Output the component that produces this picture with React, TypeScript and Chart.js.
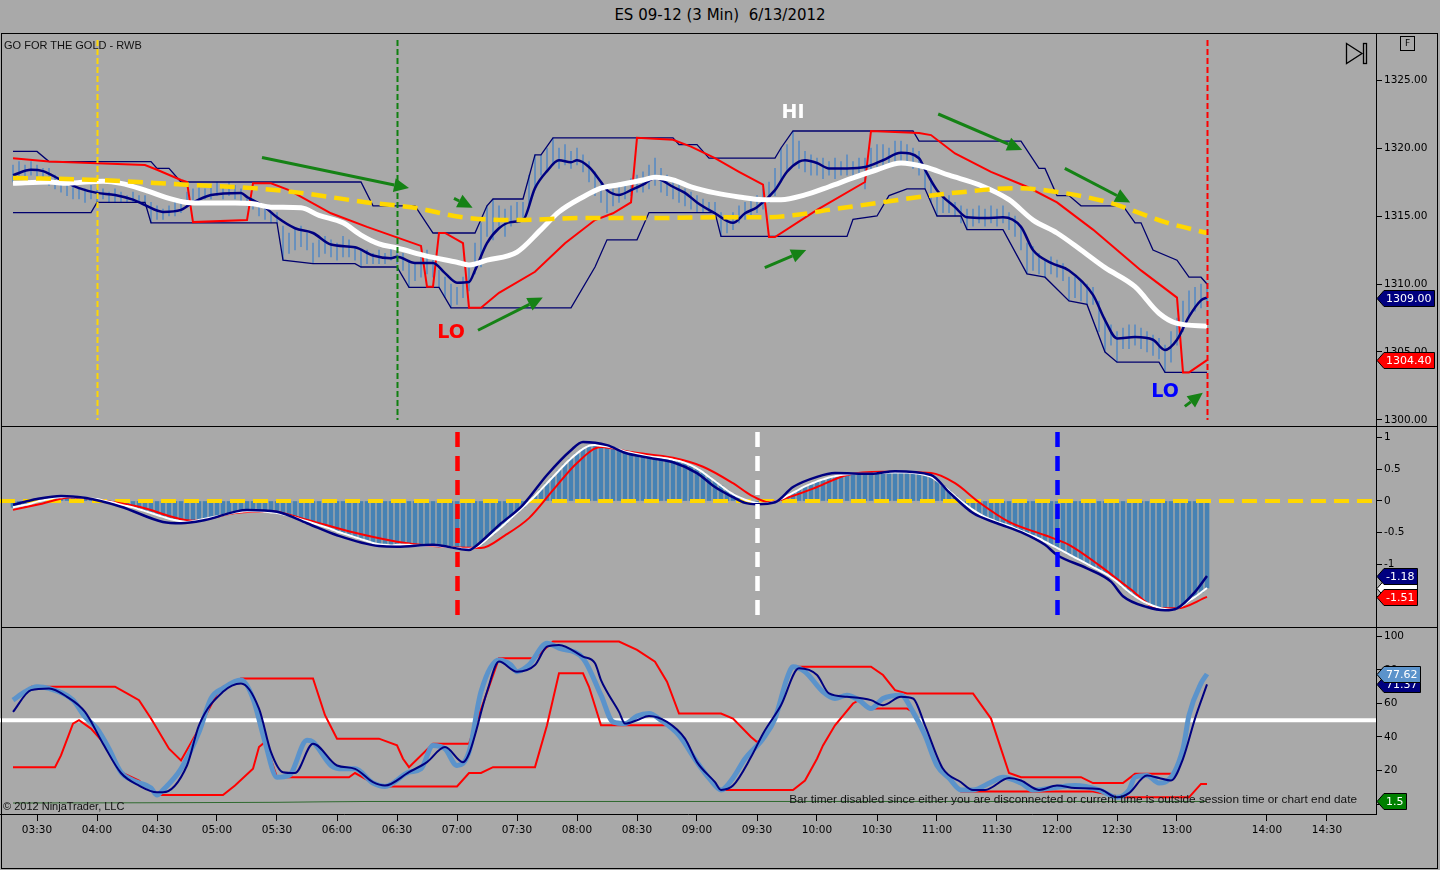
import React, { useEffect, useRef } from 'react';
import { Chart, registerables } from 'chart.js';
Chart.register(...registerables);

// ---------- axis / tick data (bar index: 0 = 03:30, one bar = 3 minutes) ----------
const timeTickIdx = [0, 10, 20, 30, 40, 50, 60, 70, 80, 90, 100, 110, 120, 130, 140, 150, 160, 170, 180, 190, 205, 215];
const timeTickLabels = ['03:30', '04:00', '04:30', '05:00', '05:30', '06:00', '06:30', '07:00', '07:30', '08:00', '08:30', '09:00', '09:30', '10:00', '10:30', '11:00', '11:30', '12:00', '12:30', '13:00', '14:00', '14:30'];
const priceTicks = [1300, 1305, 1310, 1315, 1320, 1325];
const macdTicks = [1, 0.5, 0, -0.5, -1, -1.5];
const stochTicks = [0, 20, 40, 60, 80, 100];

// ---------- price bars (first bar index = barStart) ----------
const barStart = -4;
const priceLow = [
  1317.5, 1317.75, 1317.75, 1318.0, 1317.75, 1317.5, 1317.25, 1317.0, 1316.75, 1316.5,
  1316.25, 1316.25, 1316.0, 1316.25, 1316.0, 1316.25, 1316.0, 1316.0, 1316.0, 1316.0,
  1316.0, 1316.0, 1316.0, 1314.5, 1314.75, 1314.75, 1315.0, 1315.0, 1315.25, 1315.75,
  1316.0, 1316.25, 1316.25, 1316.25, 1316.5, 1316.25, 1316.5, 1316.25, 1316.0, 1315.75,
  1315.5, 1315.0, 1314.75, 1314.5, 1314.5, 1311.75, 1312.25, 1312.5, 1312.75, 1312.5,
  1311.5, 1312.0, 1312.25, 1312.0, 1311.75, 1312.0, 1312.0, 1311.75, 1311.25, 1311.5,
  1311.5, 1311.5, 1311.5, 1311.75, 1311.5, 1311.0, 1309.75, 1310.25, 1310.5, 1310.75,
  1310.5, 1309.75, 1309.0, 1308.25, 1308.5, 1309.0, 1309.5, 1310.75, 1311.25, 1313.5,
  1313.25, 1314.25, 1313.5, 1314.25, 1314.5, 1314.75, 1315.75, 1317.0, 1318.0, 1318.25,
  1318.75, 1318.5, 1318.75, 1318.5, 1318.75, 1318.25, 1317.5, 1316.5, 1316.0, 1315.25,
  1315.75, 1316.0, 1316.25, 1316.5, 1316.75, 1316.75, 1317.0, 1317.25, 1316.75, 1316.5,
  1316.25, 1316.0, 1315.75, 1315.5, 1315.25, 1315.25, 1315.25, 1315.25, 1313.5, 1313.75,
  1314.0, 1314.5, 1314.75, 1315.0, 1315.25, 1315.5, 1316.0, 1316.5, 1317.5, 1318.25,
  1318.75, 1318.5, 1318.25, 1318.0, 1318.0, 1317.75, 1318.0, 1317.75, 1318.0, 1318.0,
  1317.75, 1318.0, 1317.0, 1318.25, 1318.5, 1318.5, 1318.75, 1319.0, 1319.0, 1318.75,
  1318.5, 1318.0, 1317.0, 1316.0, 1315.0, 1315.25, 1315.25, 1315.0, 1314.5, 1314.0,
  1314.25, 1314.5, 1314.25, 1314.5, 1314.25, 1314.5, 1314.0, 1313.5, 1312.5, 1310.75,
  1311.0, 1310.75, 1310.5, 1310.75, 1310.5, 1310.25, 1308.75, 1309.0, 1308.75, 1308.5,
  1308.5, 1306.5, 1305.0, 1305.5, 1304.25, 1305.25, 1305.25, 1305.5, 1305.25, 1305.0,
  1304.75, 1304.5, 1303.5, 1304.25, 1305.5, 1306.5, 1307.5, 1308.0, 1308.25, 1308.5,
];
const priceHigh = [
  1318.75, 1319.0, 1318.75, 1319.0, 1318.75, 1318.5, 1318.5, 1318.0, 1317.5, 1317.5,
  1317.25, 1317.0, 1317.0, 1317.25, 1317.0, 1317.0, 1316.75, 1317.0, 1316.75, 1316.5,
  1316.75, 1316.5, 1316.5, 1316.0, 1315.75, 1315.5, 1315.75, 1316.0, 1316.25, 1316.75,
  1317.0, 1317.25, 1317.0, 1317.25, 1317.5, 1317.25, 1317.5, 1317.25, 1317.0, 1316.5,
  1316.25, 1315.75, 1315.75, 1315.25, 1315.25, 1314.25, 1313.75, 1314.0, 1314.25, 1313.75,
  1313.0, 1313.25, 1313.5, 1313.25, 1313.0, 1313.5, 1313.25, 1312.75, 1312.5, 1312.5,
  1312.25, 1312.5, 1312.25, 1312.75, 1312.5, 1312.25, 1311.75, 1311.5, 1312.0, 1312.5,
  1311.75, 1311.0, 1310.5, 1310.0, 1309.75, 1310.5, 1311.5, 1313.0, 1314.5, 1315.75,
  1316.25, 1315.75, 1315.5, 1315.75, 1316.0, 1316.0, 1318.0, 1319.5, 1319.5, 1320.0,
  1320.75, 1320.0, 1320.25, 1319.75, 1320.0, 1319.5, 1319.0, 1318.25, 1317.5, 1317.0,
  1317.0, 1317.25, 1317.5, 1317.75, 1318.0, 1318.25, 1318.75, 1319.25, 1318.5, 1318.0,
  1317.75, 1317.5, 1317.0, 1316.75, 1316.5, 1316.25, 1316.0, 1316.0, 1315.25, 1315.0,
  1315.25, 1315.75, 1316.0, 1316.25, 1316.5, 1317.0, 1317.5, 1318.5, 1320.0, 1320.25,
  1321.25, 1320.5, 1319.75, 1319.5, 1319.25, 1319.25, 1319.0, 1319.25, 1319.0, 1319.5,
  1319.0, 1319.25, 1319.25, 1320.0, 1320.25, 1320.25, 1320.0, 1320.5, 1320.5, 1320.25,
  1320.0, 1319.75, 1318.75, 1317.75, 1316.5, 1316.5, 1316.5, 1316.0, 1315.75, 1315.5,
  1315.5, 1315.75, 1315.5, 1315.75, 1315.5, 1315.75, 1315.25, 1315.0, 1314.25, 1313.0,
  1312.75, 1312.25, 1311.75, 1312.0, 1311.75, 1311.5, 1310.5, 1310.5, 1310.25, 1310.0,
  1309.75, 1308.75, 1307.5, 1307.0, 1306.5, 1306.75, 1307.0, 1307.0, 1306.75, 1306.5,
  1306.25, 1306.0, 1305.5, 1306.5, 1307.5, 1308.75, 1309.5, 1309.75, 1310.0, 1310.0,
];

// ---------- price panel indicators (bar index, value) ----------
const upperBandT = [-4, 0, 2, 19, 20, 22, 24, 54, 56, 63, 66, 73, 75, 76, 81, 83, 84, 86, 106, 107, 110, 112, 123, 124, 126, 146, 147, 164, 167, 168, 170, 172, 174, 181, 183, 184, 186, 190, 192, 194, 195];
const upperBandV = [1319.75, 1319.75, 1319.0, 1319.0, 1318.5, 1318.5, 1317.5, 1317.5, 1315.75, 1315.75, 1313.75, 1313.75, 1315.75, 1316.25, 1316.25, 1319.5, 1319.5, 1320.75, 1320.75, 1320.25, 1320.25, 1319.25, 1319.25, 1320.0, 1321.25, 1321.25, 1320.5, 1320.5, 1318.5, 1318.5, 1316.5, 1316.5, 1315.75, 1315.75, 1314.5, 1314.5, 1312.5, 1311.75, 1310.5, 1310.5, 1310.0];
const lowerBandT = [-4, 9, 10, 18, 19, 40, 41, 46, 53, 54, 60, 62, 67, 69, 89, 93, 95, 100, 102, 113, 114, 135, 136, 140, 142, 145, 148, 150, 154, 155, 161, 165, 168, 172, 175, 178, 180, 187, 188, 195];
const lowerBandV = [1315.25, 1315.25, 1316.0, 1316.0, 1314.5, 1314.5, 1311.75, 1311.5, 1311.5, 1311.25, 1311.25, 1309.75, 1309.75, 1308.25, 1308.25, 1311.25, 1313.25, 1313.25, 1315.25, 1315.25, 1313.5, 1313.5, 1314.75, 1315.0, 1316.5, 1317.0, 1317.0, 1315.0, 1315.0, 1314.0, 1314.0, 1310.75, 1310.5, 1308.75, 1308.5, 1305.0, 1304.25, 1304.25, 1303.5, 1303.5];
const redStopT = [-4, 2, 18, 20, 24, 25, 26, 35, 36, 39, 42, 49, 55, 64, 65, 66, 67, 68, 71, 72, 74, 77, 83, 88, 93, 96, 99, 100, 106, 109, 113, 117, 121, 122, 123, 130, 138, 139, 147, 149, 153, 159, 165, 170, 176, 184, 190, 191, 192, 195];
const redStopV = [1319.25, 1319.0, 1318.75, 1318.4, 1317.65, 1317.5, 1314.55, 1314.7, 1317.4, 1317.4, 1316.9, 1315.2, 1314.2, 1312.8, 1309.8, 1309.8, 1313.75, 1313.75, 1313.0, 1308.25, 1308.25, 1309.35, 1310.9, 1313.0, 1314.7, 1315.2, 1316.0, 1320.75, 1320.6, 1320.1, 1319.25, 1318.25, 1317.3, 1313.45, 1313.45, 1315.45, 1317.5, 1321.25, 1321.1, 1320.95, 1319.6, 1318.25, 1317.15, 1316.0, 1314.0, 1311.0, 1309.0, 1303.5, 1303.5, 1304.4];
const fastAvgT = [-4, -1, 1, 4, 7, 10, 13, 16, 18, 21, 24, 26, 29, 34, 35, 38, 40, 43, 46, 49, 53, 56, 59, 60, 63, 66, 68, 70, 72, 73, 75, 77, 79, 81, 83, 85, 87, 89, 90, 92, 94, 95, 97, 99, 101, 103, 104, 106, 108, 110, 113, 116, 118, 120, 123, 125, 127, 128, 130, 132, 135, 138, 141, 144, 147, 148, 150, 153, 155, 158, 161, 164, 166, 169, 172, 176, 178, 180, 183, 186, 188, 190, 192, 194, 195];
const fastAvgV = [1318.0, 1318.4, 1318.3, 1317.65, 1317.05, 1316.7, 1316.55, 1316.2, 1315.8, 1315.3, 1315.45, 1316.0, 1316.55, 1316.7, 1316.4, 1315.65, 1314.9, 1314.1, 1313.75, 1312.9, 1312.7, 1312.1, 1311.9, 1312.0, 1311.55, 1311.55, 1310.8, 1310.1, 1310.15, 1311.0, 1313.0, 1314.1, 1314.55, 1314.7, 1317.05, 1318.3, 1319.1, 1318.95, 1319.1, 1318.6, 1317.5, 1316.9, 1316.55, 1316.9, 1317.3, 1317.8, 1317.65, 1317.15, 1316.7, 1316.0, 1315.2, 1314.5, 1315.2, 1315.65, 1316.9, 1318.25, 1319.0, 1319.1, 1318.9, 1318.5, 1318.5, 1318.6, 1319.1, 1319.65, 1319.25, 1318.4, 1316.9, 1315.65, 1314.9, 1314.85, 1314.9, 1314.2, 1312.5, 1311.55, 1311.0, 1309.2, 1307.35, 1306.0, 1306.1, 1305.9, 1305.15, 1305.9, 1307.6, 1308.8, 1309.0];
const midAvgT = [-4, 2, 5, 8, 11, 14, 18, 22, 25, 28, 33, 36, 39, 44, 47, 51, 54, 57, 60, 65, 70, 72, 75, 80, 84, 87, 91, 94, 97, 101, 103, 106, 109, 113, 117, 121, 124, 128, 132, 136, 140, 144, 148, 152, 157, 162, 166, 170, 174, 178, 183, 187, 190, 195];
const midAvgV = [1317.4, 1317.5, 1317.4, 1317.5, 1317.55, 1317.4, 1316.9, 1316.3, 1316.0, 1315.95, 1315.95, 1315.9, 1315.65, 1315.6, 1315.05, 1314.5, 1313.6, 1312.95, 1312.65, 1312.05, 1311.6, 1311.4, 1311.75, 1312.35, 1314.0, 1315.3, 1316.4, 1317.05, 1317.3, 1317.65, 1317.85, 1317.65, 1317.15, 1316.7, 1316.4, 1316.2, 1316.2, 1316.55, 1317.15, 1317.8, 1318.4, 1318.9, 1318.6, 1318.0, 1317.3, 1316.2, 1314.7, 1313.75, 1312.5, 1311.2, 1309.8, 1307.85, 1307.1, 1306.9];
const slowAvgT = [-4, 10, 25, 36, 44, 55, 63, 71, 80, 91, 102, 113, 121, 126, 132, 140, 147, 154, 163, 171, 179, 188, 195];
const slowAvgV = [1317.8, 1317.65, 1317.3, 1317.05, 1316.7, 1316.0, 1315.6, 1314.9, 1314.7, 1314.85, 1314.85, 1314.9, 1314.9, 1315.05, 1315.45, 1315.95, 1316.4, 1316.75, 1317.05, 1316.7, 1315.95, 1314.55, 1313.75];

// price panel annotations
const priceMarkers = [10, 60, 195];
const arrowFromT = [37.5, 69.5, 73.5, 121.3, 150.2, 171.3, 191.3];
const arrowFromV = [1319.3, 1316.3, 1306.6, 1311.2, 1322.5, 1318.5, 1301.0];
const arrowToT = [62, 72.6, 84.3, 128.2, 164.2, 182.2, 194.3];
const arrowToV = [1317.05, 1315.6, 1309.0, 1312.5, 1319.85, 1316.0, 1302.0];
const noteText = ['HI', 'LO', 'LO'];
const noteT = [126, 69, 188];
const noteV = [1322.6, 1306.4, 1302.05];

// ---------- MACD panel ----------
const macdHist = [
  -0.10, -0.08, -0.06, -0.04, -0.01, 0.01, 0.03, 0.05, 0.06, 0.07,
  0.07, 0.06, 0.05, 0.04, 0.03, 0.01, -0.01, -0.03, -0.06, -0.08,
  -0.10, -0.13, -0.16, -0.19, -0.22, -0.25, -0.28, -0.30, -0.32, -0.33,
  -0.32, -0.30, -0.28, -0.26, -0.24, -0.22, -0.20, -0.18, -0.17, -0.16,
  -0.16, -0.16, -0.17, -0.18, -0.19, -0.21, -0.23, -0.26, -0.29, -0.32,
  -0.35, -0.38, -0.41, -0.44, -0.48, -0.51, -0.54, -0.57, -0.60, -0.63,
  -0.66, -0.68, -0.69, -0.70, -0.69, -0.69, -0.69, -0.70, -0.70, -0.70,
  -0.70, -0.71, -0.72, -0.73, -0.74, -0.75, -0.75, -0.73, -0.68, -0.60,
  -0.52, -0.44, -0.36, -0.27, -0.18, -0.10, -0.01, 0.08, 0.18, 0.28,
  0.38, 0.48, 0.58, 0.67, 0.75, 0.82, 0.87, 0.88, 0.87, 0.86,
  0.84, 0.81, 0.78, 0.76, 0.74, 0.72, 0.70, 0.69, 0.68, 0.67,
  0.65, 0.63, 0.60, 0.56, 0.51, 0.45, 0.38, 0.31, 0.24, 0.17,
  0.11, 0.06, 0.02, -0.01, -0.03, -0.04, -0.03, -0.01, 0.03, 0.08,
  0.13, 0.18, 0.23, 0.27, 0.31, 0.34, 0.37, 0.39, 0.41, 0.42,
  0.43, 0.43, 0.43, 0.43, 0.44, 0.44, 0.45, 0.45, 0.45, 0.45,
  0.44, 0.43, 0.41, 0.38, 0.32, 0.24, 0.16, 0.08, 0.00, -0.07,
  -0.14, -0.20, -0.25, -0.29, -0.33, -0.36, -0.39, -0.43, -0.47, -0.51,
  -0.55, -0.59, -0.64, -0.69, -0.74, -0.79, -0.84, -0.89, -0.94, -0.99,
  -1.04, -1.09, -1.14, -1.20, -1.27, -1.35, -1.43, -1.50, -1.56, -1.61,
  -1.65, -1.68, -1.70, -1.71, -1.69, -1.64, -1.57, -1.51, -1.44, -1.37,
];
const macdT = [-4, 0, 4, 8, 14, 21, 24, 28, 35, 40, 45, 50, 57, 60, 66, 72, 73, 77, 81, 85, 89, 91, 95, 98, 102, 106, 110, 113, 116, 118, 120, 123, 126, 130, 133, 139, 143, 149, 152, 156, 160, 164, 168, 170, 175, 179, 181, 185, 188, 190, 193, 195];
const macdV = [-0.06, 0.03, 0.08, 0.05, -0.09, -0.33, -0.35, -0.30, -0.14, -0.17, -0.35, -0.54, -0.71, -0.72, -0.69, -0.77, -0.72, -0.38, -0.06, 0.41, 0.80, 0.93, 0.88, 0.76, 0.68, 0.61, 0.44, 0.22, 0.06, -0.03, -0.05, -0.02, 0.22, 0.38, 0.44, 0.43, 0.47, 0.41, 0.14, -0.19, -0.35, -0.49, -0.69, -0.85, -1.06, -1.27, -1.50, -1.67, -1.72, -1.69, -1.43, -1.18];
const macdSlowT = [-4, 0, 6, 10, 17, 26, 33, 39, 44, 53, 60, 66, 74, 78, 82, 86, 90, 94, 99, 106, 111, 116, 119, 122, 125, 130, 135, 141, 149, 153, 157, 162, 168, 172, 177, 182, 187, 190, 195];
const macdSlowV = [-0.14, -0.06, 0.06, 0.02, -0.09, -0.31, -0.19, -0.16, -0.27, -0.50, -0.64, -0.71, -0.74, -0.54, -0.27, 0.17, 0.60, 0.85, 0.77, 0.68, 0.54, 0.28, 0.09, -0.02, 0.05, 0.22, 0.41, 0.46, 0.44, 0.28, -0.02, -0.33, -0.54, -0.69, -1.01, -1.37, -1.69, -1.69, -1.51];
const macdMarkers = [70, 120, 170];
const macdZero = 0;

// ---------- stochastic panel ----------
const stochKT = [-4, -2, 0, 2, 6, 8, 10, 12, 14, 16, 19, 20, 21, 24, 27, 29, 31, 34, 36, 38, 40, 42, 45, 46, 49, 51, 53, 56, 58, 62, 64, 66, 68, 70, 72, 74, 77, 79, 80, 82, 85, 87, 91, 94, 96, 98, 100, 102, 104, 107, 110, 112, 114, 116, 118, 121, 123, 125, 126, 128, 131, 133, 135, 137, 139, 141, 144, 146, 148, 150, 152, 154, 156, 159, 161, 164, 166, 170, 173, 177, 180, 182, 183, 185, 187, 188, 191, 192, 194, 195];
const stochKV = [62, 67, 70, 69, 62, 52, 45, 33, 19, 14, 9.5, 5.4, 8.4, 21, 43, 63, 69, 74, 63, 37, 16, 17, 38, 37, 23, 21, 21, 12.5, 10.5, 19, 21, 35, 33, 23, 31, 67, 86, 83, 79, 83, 96, 93, 87, 65, 49, 48, 52.5, 54, 50, 41, 25, 15.5, 8.4, 15.5, 27, 39, 51, 75, 82, 79, 67, 63, 65, 62, 57, 63, 65, 55, 41, 23, 15.5, 8.4, 8.4, 13, 16, 12.5, 8.4, 10, 11, 8.4, 4, 8.4, 16, 17, 12.5, 13, 33, 53, 72, 77.62];
const stochDT = [-4, -1, 2, 5, 8, 11, 14, 17, 20, 21, 25, 27, 31, 34, 37, 39, 41, 43, 46, 50, 53, 56, 58, 62, 65, 68, 71, 72, 75, 77, 80, 83, 85, 87, 91, 93, 94, 95, 97, 98, 100, 102, 105, 108, 110, 113, 114, 116, 119, 121, 124, 127, 130, 132, 135, 139, 141, 144, 146, 148, 151, 154, 156, 158, 162, 164, 167, 170, 173, 177, 180, 182, 185, 187, 189, 191, 193, 195];
const stochDV = [55, 68, 69, 64, 55, 36, 18.5, 11, 7, 7, 23, 47, 67, 72, 57, 31, 19, 18.5, 36, 23, 21, 13, 11, 19, 25, 34, 25, 30, 67, 85, 79, 83, 94, 95, 88, 84, 74, 67, 55, 48, 50, 52.5, 49, 39, 25, 13, 8.4, 11, 28, 42, 59, 81, 77, 66, 64, 62, 59, 64, 63, 47, 21, 13, 8.4, 8.4, 15.5, 14, 8.4, 11, 9.5, 9, 4, 6.5, 17, 15.5, 14, 27, 51, 71.37];
const stochUpperT = [-1, 13, 15, 17, 19, 22, 24, 27, 30, 31, 34, 46, 48, 50, 57, 60, 61, 62, 66, 72, 77, 83, 86, 97, 100, 103, 105, 107, 114, 116, 119, 120, 121, 123, 125, 126, 139, 141, 143, 145, 156, 159, 162, 164, 174, 176, 181, 183, 189];
const stochUpperV = [70, 70, 66, 62, 51, 33, 26, 45, 66, 70, 75, 75, 53, 39, 39, 35, 27, 22, 36, 36, 87, 87, 97, 97, 92, 85, 73, 54, 54, 51, 40, 37, 39, 51, 75, 82, 82, 77, 68, 66, 66, 51, 18.5, 16, 16, 12.5, 12.5, 18, 18];
const stochLowerT = [-4, 3, 4, 6, 7, 9, 12, 14, 17, 20, 31, 33, 36, 37, 38, 40, 52, 53, 56, 58, 70, 72, 74, 76, 83, 85, 87, 91, 92, 94, 105, 107, 110, 112, 114, 126, 128, 130, 131, 133, 136, 137, 139, 145, 146, 148, 150, 152, 154, 176, 181, 192, 194, 195];
const stochLowerV = [22, 22, 29, 48, 50, 45, 33, 19, 14, 5.4, 5.4, 11, 21, 34, 37, 16, 16, 18.5, 12.5, 10.5, 10.5, 18.5, 18.5, 22, 22, 47, 78, 78, 70, 47, 47, 41, 25, 15.5, 8.4, 8.4, 14, 27, 35, 47, 60, 62, 57, 57, 55, 41, 23, 15.5, 7.5, 7.5, 4, 4, 12, 12];
const timerT = [-4, 40, 55, 70, 195];
const timerV = [0.6, 1.0, 1.5, 1.5, 1.5];
const stochMid = 50;

// ---------- rendering ----------
const FONT = '"DejaVu Sans", Verdana, sans-serif';
const SANS = '"Liberation Sans", Arial, sans-serif';
const BG = '#a9a9a9';
const X_MIN = -37 / 6;
const X_MAX = X_MIN + 1376 / 6;

const pts = (t: number[], v: number[]) => t.map((x, k) => ({ x, y: v[k] }));
const last = (a: number[]) => a[a.length - 1];

function line(data: any[], color: string, width: number, order: number, extra: any = {}) {
  return { type: 'line', data, borderColor: color, borderWidth: width, pointRadius: 0, fill: false, tension: 0, order, ...extra };
}
const smooth = { tension: 0.4, cubicInterpolationMode: 'monotone' };

function scales(yMin: number, yMax: number, yTicks: number[], fmt: (v: number) => string, showX: boolean) {
  return {
    x: {
      type: 'linear', min: X_MIN, max: X_MAX, offset: false, display: showX,
      afterFit: (s: any) => { if (showX) s.height = 56; s.paddingLeft = 0; s.paddingRight = 0; },
      afterBuildTicks: (s: any) => { s.ticks = timeTickIdx.map((v) => ({ value: v })); },
      ticks: { autoSkip: false, maxRotation: 0, color: '#000', font: { family: FONT, size: 10.5 }, padding: 3, callback: (_v: any, i: number) => timeTickLabels[i] },
      grid: { display: true, drawOnChartArea: false, drawTicks: true, tickLength: 7, color: '#000' },
      border: { display: true, color: '#000', width: 1 },
    },
    y: {
      type: 'linear', position: 'right', min: yMin, max: yMax,
      afterFit: (s: any) => { s.width = 64; s.paddingTop = 0; s.paddingBottom = 0; },
      afterBuildTicks: (s: any) => { s.ticks = yTicks.map((v) => ({ value: v })); },
      ticks: { autoSkip: false, color: '#000', font: { family: FONT, size: 10.5 }, padding: 2, callback: (v: any) => fmt(Number(v)) },
      grid: { display: true, drawOnChartArea: false, drawTicks: true, tickLength: 6, color: '#000' },
      border: { display: true, color: '#000', width: 1 },
    },
  };
}

function flagsPlugin(flags: { value: number; text: string; bg: string; fg: string }[]) {
  return {
    id: 'flags',
    afterDraw(chart: any) {
      const ctx = chart.ctx;
      const ys = chart.scales.y;
      const x0 = chart.chartArea.right + 1;
      ctx.save();
      ctx.font = `11px ${FONT}`;
      ctx.textBaseline = 'middle';
      for (const f of flags) {
        const py = Math.round(ys.getPixelForValue(f.value)) + 0.5;
        const w = ctx.measureText(f.text).width + 5;
        ctx.beginPath();
        ctx.moveTo(x0, py);
        ctx.lineTo(x0 + 7, py - 8);
        ctx.lineTo(x0 + 7 + w, py - 8);
        ctx.lineTo(x0 + 7 + w, py + 8);
        ctx.lineTo(x0 + 7, py + 8);
        ctx.closePath();
        ctx.fillStyle = f.bg;
        ctx.fill();
        ctx.strokeStyle = '#000';
        ctx.lineWidth = 1;
        ctx.stroke();
        ctx.fillStyle = f.fg;
        ctx.fillText(f.text, x0 + 9, py + 1);
      }
      ctx.restore();
    },
  };
}

function markersPlugin(marks: number[], colors: string[], width: number, dash: number[], inset: number) {
  return {
    id: 'markers',
    afterDatasetsDraw(chart: any) {
      const { ctx, chartArea } = chart;
      const xs = chart.scales.x;
      ctx.save();
      ctx.lineWidth = width;
      ctx.setLineDash(dash);
      marks.forEach((m, k) => {
        const px = Math.round(xs.getPixelForValue(m)) + 0.5;
        ctx.strokeStyle = colors[k];
        ctx.beginPath();
        ctx.moveTo(px, chartArea.top + inset);
        ctx.lineTo(px, chartArea.bottom - inset);
        ctx.stroke();
      });
      ctx.restore();
    },
  };
}

function priceConfig(): any {
  const bars = priceLow.map((lo, k) => ({ x: barStart + k, y: [lo, priceHigh[k]] }));
  const notesPlugin = {
    id: 'notes',
    afterDatasetsDraw(chart: any) {
      const { ctx } = chart;
      const xs = chart.scales.x;
      const ys = chart.scales.y;
      ctx.save();
      ctx.strokeStyle = '#158215';
      ctx.fillStyle = '#158215';
      ctx.lineWidth = 3;
      arrowFromT.forEach((t0, k) => {
        const x1 = xs.getPixelForValue(t0), y1 = ys.getPixelForValue(arrowFromV[k]);
        const x2 = xs.getPixelForValue(arrowToT[k]), y2 = ys.getPixelForValue(arrowToV[k]);
        const a = Math.atan2(y2 - y1, x2 - x1);
        const hl = 15, hw = 7;
        const bx = x2 - hl * Math.cos(a), by = y2 - hl * Math.sin(a);
        ctx.beginPath();
        ctx.moveTo(x1, y1);
        ctx.lineTo(bx, by);
        ctx.stroke();
        ctx.beginPath();
        ctx.moveTo(x2, y2);
        ctx.lineTo(bx + hw * Math.sin(a), by - hw * Math.cos(a));
        ctx.lineTo(bx - hw * Math.sin(a), by + hw * Math.cos(a));
        ctx.closePath();
        ctx.fill();
      });
      const noteColors = ['#ffffff', '#ff0000', '#0000ff'];
      ctx.font = `bold 19px ${FONT}`;
      ctx.textAlign = 'center';
      ctx.textBaseline = 'middle';
      noteText.forEach((s, k) => {
        ctx.fillStyle = noteColors[k];
        ctx.fillText(s, xs.getPixelForValue(noteT[k]), ys.getPixelForValue(noteV[k]));
      });
      ctx.restore();
    },
  };
  return {
    type: 'line',
    data: {
      datasets: [
        line(pts(slowAvgT, slowAvgV), '#ffd700', 4.5, 1, { ...smooth, borderDash: [15, 8] }),
        line(pts(midAvgT, midAvgV), '#ffffff', 5, 2, smooth),
        line(pts(fastAvgT, fastAvgV), '#000080', 2.5, 3, smooth),
        line(pts(redStopT, redStopV), '#ff0000', 2, 4),
        line(pts(upperBandT, upperBandV), '#00006e', 1.3, 5),
        line(pts(lowerBandT, lowerBandV), '#00006e', 1.3, 5),
        { type: 'bar', data: bars, backgroundColor: '#5b8cc2', barThickness: 1, order: 10 },
      ],
    },
    options: {
      responsive: false, animation: false, devicePixelRatio: 1,
      layout: { padding: 0 },
      plugins: { legend: { display: false }, tooltip: { enabled: false } },
      scales: scales(1325 - 346 / 13.6, 1325 + 46 / 13.6, priceTicks, (v) => v.toFixed(2), false),
    },
    plugins: [
      markersPlugin(priceMarkers, ['#ffd700', '#108010', '#ff0000'], 2, [6, 3], 6),
      notesPlugin,
      flagsPlugin([
        { value: last(fastAvgV), text: last(fastAvgV).toFixed(2), bg: '#000080', fg: '#ffffff' },
        { value: last(redStopV), text: last(redStopV).toFixed(2), bg: '#ff0000', fg: '#ffffff' },
      ]),
    ],
  };
}

function macdConfig(): any {
  const hist = macdHist.map((v, k) => ({ x: barStart + k, y: v }));
  const zeroPlugin = {
    id: 'zero',
    afterDatasetDraw(chart: any, args: any) {
      if (args.meta.type !== 'bar') return;
      const { ctx, chartArea } = chart;
      const py = chart.scales.y.getPixelForValue(macdZero);
      ctx.save();
      ctx.strokeStyle = '#ffd700';
      ctx.lineWidth = 4;
      ctx.setLineDash([15, 8]);
      ctx.beginPath();
      ctx.moveTo(chartArea.left, py);
      ctx.lineTo(chartArea.right, py);
      ctx.stroke();
      ctx.restore();
    },
  };
  return {
    type: 'line',
    data: {
      datasets: [
        line(pts(macdT, macdV), '#000080', 2.5, 1, smooth),
        line(hist, '#ffffff', 2, 2, smooth),
        line(pts(macdSlowT, macdSlowV), '#ff0000', 2, 3, smooth),
        { type: 'bar', data: hist, backgroundColor: '#4682b4', barThickness: 4, order: 10 },
      ],
    },
    options: {
      responsive: false, animation: false, devicePixelRatio: 1,
      layout: { padding: 0 },
      plugins: { legend: { display: false }, tooltip: { enabled: false } },
      scales: scales((501 - 627) / 63.5, (501 - 427) / 63.5, macdTicks, (v) => String(v), false),
    },
    plugins: [
      zeroPlugin,
      markersPlugin(macdMarkers, ['#ff0000', '#ffffff', '#0000ff'], 4.5, [15, 9], 5),
      flagsPlugin([
        { value: last(macdHist), text: last(macdHist).toFixed(2), bg: '#ffffff', fg: '#ffffff' },
        { value: last(macdV), text: last(macdV).toFixed(2), bg: '#000080', fg: '#ffffff' },
        { value: last(macdSlowV), text: last(macdSlowV).toFixed(2), bg: '#ff0000', fg: '#ffffff' },
      ]),
    ],
  };
}

function stochConfig(): any {
  const midPlugin = {
    id: 'mid',
    beforeDatasetsDraw(chart: any) {
      const { ctx, chartArea } = chart;
      const py = chart.scales.y.getPixelForValue(stochMid);
      ctx.save();
      ctx.strokeStyle = '#ffffff';
      ctx.lineWidth = 4;
      ctx.beginPath();
      ctx.moveTo(chartArea.left, py);
      ctx.lineTo(chartArea.right, py);
      ctx.stroke();
      ctx.restore();
    },
  };
  return {
    type: 'line',
    data: {
      datasets: [
        line(pts(stochDT, stochDV), '#000080', 2, 1, smooth),
        line(pts(stochKT, stochKV), '#5b93cb', 5, 2, smooth),
        line(pts(stochUpperT, stochUpperV), '#ff0000', 2, 3),
        line(pts(stochLowerT, stochLowerV), '#ff0000', 2, 3),
        line(pts(timerT, timerV), '#2f6a2f', 1, 4, smooth),
      ],
    },
    options: {
      responsive: false, animation: false, devicePixelRatio: 1,
      layout: { padding: 0 },
      plugins: { legend: { display: false }, tooltip: { enabled: false } },
      scales: scales((804 - 814) / 1.675, (804 - 628) / 1.675, stochTicks, (v) => String(v), true),
    },
    plugins: [
      midPlugin,
      flagsPlugin([
        { value: last(stochDV), text: last(stochDV).toFixed(2), bg: '#000080', fg: '#ffffff' },
        { value: last(stochKV), text: last(stochKV).toFixed(2), bg: '#5b93cb', fg: '#ffffff' },
        { value: last(timerV), text: String(last(timerV)), bg: '#008000', fg: '#ffffff' },
      ]),
    ],
  };
}

export default function App() {
  const c1 = useRef<HTMLCanvasElement>(null);
  const c2 = useRef<HTMLCanvasElement>(null);
  const c3 = useRef<HTMLCanvasElement>(null);

  useEffect(() => {
    const charts = [
      new Chart(c1.current as HTMLCanvasElement, priceConfig()),
      new Chart(c2.current as HTMLCanvasElement, macdConfig()),
      new Chart(c3.current as HTMLCanvasElement, stochConfig()),
    ];
    return () => charts.forEach((c) => c.destroy());
  }, []);

  const abs = (left: number, top: number, extra: any = {}) => ({ position: 'absolute' as const, left, top, ...extra });
  const hline = (top: number, left: number, width: number) => <div style={abs(left, top, { width, height: 1, background: '#000' })} />;

  return (
    <div style={{ position: 'fixed', left: 0, top: 0, width: 1440, height: 870, background: BG, overflow: 'hidden', fontFamily: FONT }}>
      <div style={abs(0, 6, { width: 1440, textAlign: 'center', fontSize: 15, whiteSpace: 'pre', color: '#000' })}>{'ES 09-12 (3 Min)  6/13/2012'}</div>
      <canvas ref={c1} width={1440} height={392} style={abs(0, 34, { width: 1440, height: 392 })} />
      <canvas ref={c2} width={1440} height={200} style={abs(0, 427, { width: 1440, height: 200 })} />
      <canvas ref={c3} width={1440} height={242} style={abs(0, 628, { width: 1440, height: 242 })} />
      <div style={abs(1, 33, { width: 1437, height: 836, border: '1px solid #000', boxSizing: 'border-box' })} />
      {hline(426, 1, 1437)}
      {hline(627, 1, 1437)}
      <div style={abs(4, 39, { fontSize: 11, fontFamily: SANS, color: '#111' })}>GO FOR THE GOLD - RWB</div>
      <div style={abs(3, 800, { fontSize: 11, fontFamily: SANS, color: '#111' })}>© 2012 NinjaTrader, LLC</div>
      <div style={{ position: 'absolute', right: 83, top: 792, fontSize: 11.8, fontFamily: SANS, color: '#111', whiteSpace: 'nowrap' }}>
        Bar timer disabled since either you are disconnected or current time is outside session time or chart end date
      </div>
      <svg style={abs(1345, 42)} width={24} height={23}>
        <polygon points="1.5,1.5 17,11.5 1.5,21.5" fill="none" stroke="#000" strokeWidth={1.3} />
        <rect x={18.5} y={1.5} width={3} height={20} fill="none" stroke="#000" strokeWidth={1.3} />
      </svg>
      <div style={abs(1400, 36, { width: 15, height: 15, border: '1px solid #000', boxSizing: 'border-box', fontSize: 9, lineHeight: '13px', textAlign: 'center', color: '#000' })}>F</div>
    </div>
  );
}
